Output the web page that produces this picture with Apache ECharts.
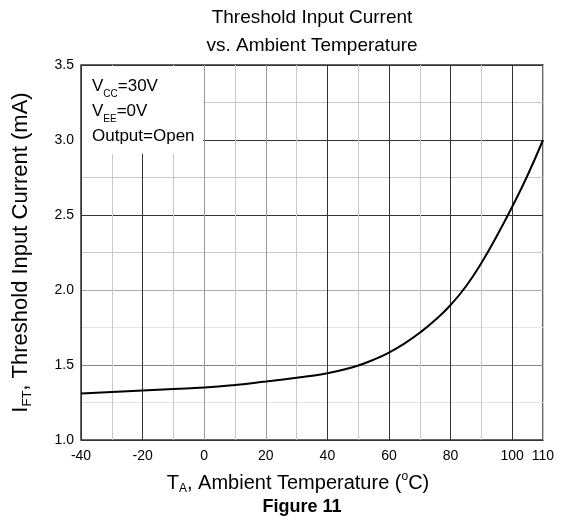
<!DOCTYPE html>
<html>
<head>
<meta charset="utf-8">
<script src="https://cdn.jsdelivr.net/npm/echarts@6/dist/echarts.min.js"></script>
<style>
  html, body { margin: 0; padding: 0; background: #fff; }
  #chart { width: 563px; height: 521px; }
</style>
</head>
<body>
<div id="chart"></div>
<script>
// threshold input current vs ambient temperature
var temps    = [-40, -30, -20, -10, 0, 10, 20, 30, 35, 40, 45, 50, 55, 60, 65, 70, 75, 80, 85, 90, 95, 100, 105, 110];
var currents = [1.31, 1.32, 1.33, 1.34, 1.35, 1.367, 1.39, 1.415, 1.429, 1.445, 1.468, 1.497, 1.535, 1.583, 1.643, 1.715, 1.80, 1.90, 2.025, 2.18, 2.36, 2.555, 2.765, 3.0];

var xTickLabels = [-40, -20, 0, 20, 40, 60, 80, 100, 110];
var yTickLabels = [1.0, 1.5, 2.0, 2.5, 3.0, 3.5];

var FONT = 'Liberation Sans, Arial, sans-serif';

// grid line shades, one per tick starting at min
var xGridColors = ['#333', '#c8c8c8', '#333', '#c8c8c8', '#999', '#c8c8c8', '#999', '#c8c8c8',
                   '#333', '#c8c8c8', '#333', '#c8c8c8', '#333', '#c8c8c8', '#333', '#c8c8c8'];
var yGridColors = ['#333', '#e4e4e4', '#888', '#e4e4e4', '#aaa', '#c8c8c8', '#333', '#c8c8c8',
                   '#333', '#c8c8c8', '#333'];

var seriesData = temps.map(function (t, i) { return [t, currents[i]]; });

var chart = echarts.init(document.getElementById('chart'));

var option = {
    backgroundColor: '#fff',
    animation: false,
    title: {
        text: 'Threshold Input Current\nvs. Ambient Temperature',
        left: 312,
        top: 4,
        padding: 0,
        textAlign: 'center',
        textStyle: {
            fontFamily: FONT,
            fontSize: 19,
            fontWeight: 'normal',
            color: '#000',
            lineHeight: 28
        }
    },
    grid: {
        left: 81,
        right: 20,
        top: 65,
        bottom: 81,
        show: true,
        borderColor: '#333',
        borderWidth: 1.5
    },
    xAxis: {
        type: 'value',
        min: -40,
        max: 110,
        interval: 10,
        axisLine: { show: false },
        axisTick: { show: false },
        axisLabel: {
            interval: 0,
            margin: 9,
            fontFamily: FONT,
            fontSize: 14,
            color: '#000',
            formatter: function (v) {
                return xTickLabels.indexOf(v) >= 0 ? String(v) : '';
            }
        },
        splitLine: { show: true, lineStyle: { color: xGridColors, width: 1 } },
        name: '{n|T}{sub|A}{n|, Ambient Temperature (}{sup|o}{n|C)}',
        nameLocation: 'middle',
        nameGap: 31,
        nameTextStyle: {
            padding: [0, 28, 0, 0],
            rich: {
                n: { fontFamily: FONT, fontSize: 20, color: '#000', lineHeight: 24 },
                sub: { fontFamily: FONT, fontSize: 12, color: '#000', verticalAlign: 'bottom', lineHeight: 12 },
                sup: { fontFamily: FONT, fontSize: 12, color: '#000', verticalAlign: 'top', lineHeight: 14 }
            }
        }
    },
    yAxis: {
        type: 'value',
        min: 1.0,
        max: 3.5,
        interval: 0.25,
        axisLine: { show: false },
        axisTick: { show: false },
        axisLabel: {
            margin: 7,
            fontFamily: FONT,
            fontSize: 14,
            color: '#000',
            formatter: function (v) {
                for (var i = 0; i < yTickLabels.length; i++) {
                    if (Math.abs(yTickLabels[i] - v) < 1e-6) return yTickLabels[i].toFixed(1);
                }
                return '';
            }
        },
        splitLine: { show: true, lineStyle: { color: yGridColors, width: 1 } },
        name: '{n|I}{sub|FT}{n|, Threshold Input Current (mA)}',
        nameLocation: 'middle',
        nameRotate: 90,
        nameGap: 47,
        nameTextStyle: {
            rich: {
                n: { fontFamily: FONT, fontSize: 22, color: '#000', lineHeight: 26 },
                sub: { fontFamily: FONT, fontSize: 13, color: '#000', verticalAlign: 'bottom', lineHeight: 13 }
            }
        }
    },
    graphic: [
        {
            type: 'rect',
            z: 50,
            shape: { x: 82, y: 66, width: 121, height: 88 },
            style: { fill: '#fff' }
        },
        {
            type: 'text',
            z: 51,
            x: 92,
            y: 74,
            style: {
                text: '{n|V}{sub|CC}{n|=30V}\n{n|V}{sub|EE}{n|=0V}\n{n|Output=Open}',
                rich: {
                    n: { fontFamily: FONT, fontSize: 17, fill: '#000', lineHeight: 25 },
                    sub: { fontFamily: FONT, fontSize: 10, fill: '#000', verticalAlign: 'bottom', lineHeight: 11 }
                }
            }
        },
        {
            type: 'text',
            z: 51,
            x: 302,
            y: 507,
            style: {
                text: 'Figure 11',
                font: 'bold 18px ' + FONT,
                fill: '#000',
                align: 'center',
                verticalAlign: 'middle'
            }
        }
    ],
    series: [
        {
            type: 'line',
            data: seriesData,
            smooth: 0.5,
            showSymbol: false,
            symbol: 'none',
            lineStyle: { color: '#000', width: 2 },
            z: 10
        }
    ]
};

chart.setOption(option);
</script>
</body>
</html>
